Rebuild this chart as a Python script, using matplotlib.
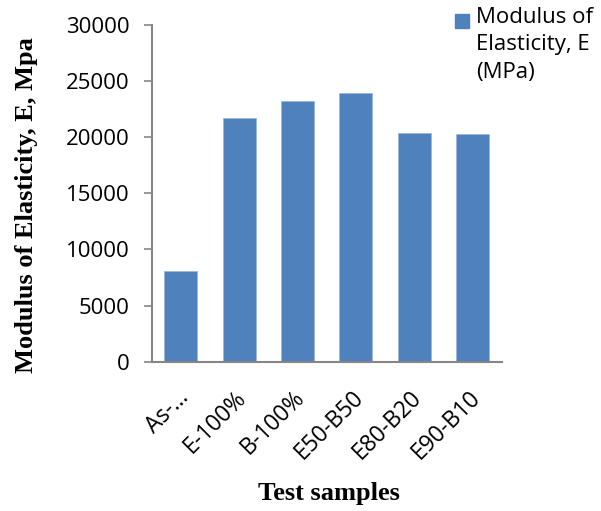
import matplotlib
matplotlib.use("Agg")
import matplotlib.pyplot as plt
from matplotlib.patches import Rectangle
from matplotlib.transforms import ScaledTranslation

samples = ["As-…", "E-100%", "B-100%", "E50-B50", "E80-B20", "E90-B10"]
modulus = [8050, 21670, 23180, 23920, 20360, 20270]
yticks = [0, 5000, 10000, 15000, 20000, 25000, 30000]
series_name = "Modulus of\nElasticity, E\n(MPa)"

bar_color = "#4F81BD"
axis_color = "#868686"
sans = ["Open Sans", "DejaVu Sans"]
serif = ["Liberation Serif", "DejaVu Serif"]

fig = plt.figure(figsize=(6.01, 5.11), dpi=100)
W, H = 601, 511
ax = fig.add_axes([151.7 / W, 1 - 361.7 / H, 350 / W, 337 / H])

x = range(len(samples))
ax.bar(x, modulus, width=0.57, color=bar_color, edgecolor="#9DB7DB", linewidth=0.6, zorder=2)

ax.set_xlim(-0.5, len(samples) - 0.5)
ax.set_ylim(0, 30000)
ax.set_yticks(yticks)
ax.set_yticklabels([str(v) for v in yticks], family=sans, fontsize=16)
ax.set_xticks(list(x))
ax.set_xticklabels(samples, family=sans, fontsize=16.5, rotation=45,
                   ha="right", va="center", rotation_mode="anchor")
ax.tick_params(axis="y", direction="out", length=6, width=1.2, color=axis_color, pad=10)
ax.tick_params(axis="x", length=0, pad=19)
# nudge the slanted labels a little right and down
shift = ScaledTranslation(4 / 100, -6 / 100, fig.dpi_scale_trans)
for lab in ax.get_xticklabels():
    lab.set_transform(lab.get_transform() + shift)

for s in ["top", "right"]:
    ax.spines[s].set_visible(False)
for s in ["left", "bottom"]:
    ax.spines[s].set_color(axis_color)
    ax.spines[s].set_linewidth(1.5)

fig.text(27 / W, 1 - 205 / H, "Modulus of Elasticity, E, Mpa", rotation=90,
         ha="center", va="center", family=serif, fontweight="bold", fontsize=19)
fig.text(329 / W, 1 - 493 / H, "Test samples", ha="center", va="center",
         family=serif, fontweight="bold", fontsize=19)

# legend
fig.add_artist(Rectangle((455 / W, 1 - 28 / H), 14 / W, 14 / H,
                         transform=fig.transFigure, color=bar_color))
fig.text(476 / W, 1 - 7 / H, series_name, ha="left", va="top",
         family=sans, fontsize=16, linespacing=1.4)

fig.savefig("out.png", dpi=100)
